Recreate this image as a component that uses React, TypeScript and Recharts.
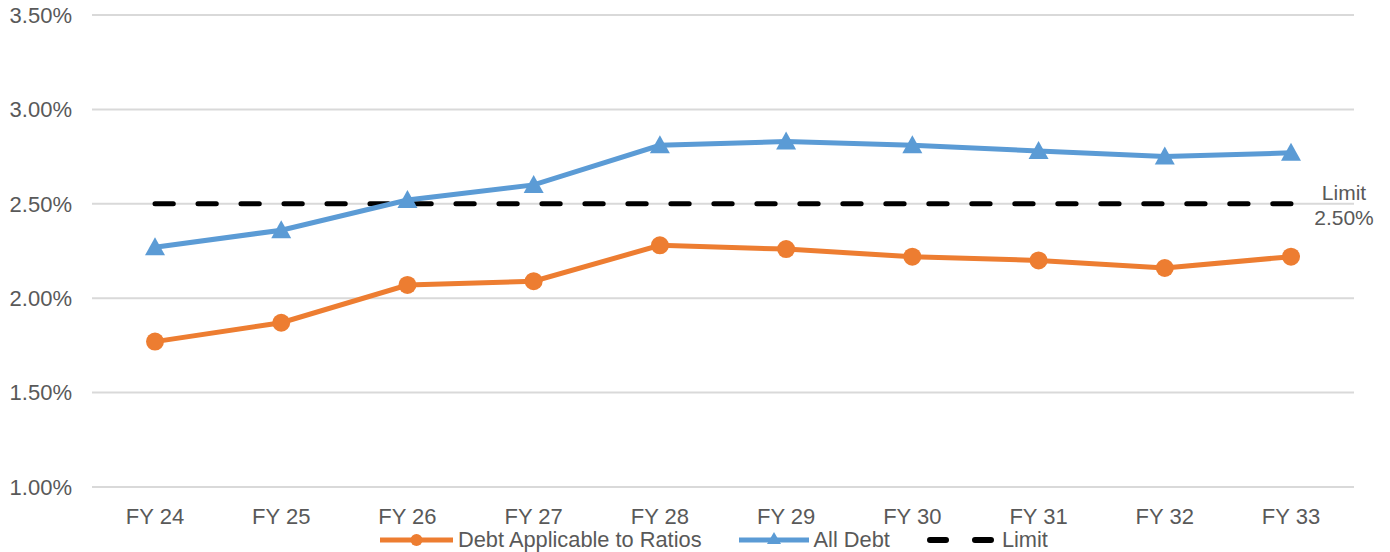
import React from "react";
import {
  LineChart,
  Line,
  XAxis,
  YAxis,
  CartesianGrid,
  Legend,
  LabelList,
} from "recharts";

const categories = ["FY 24", "FY 25", "FY 26", "FY 27", "FY 28", "FY 29", "FY 30", "FY 31", "FY 32", "FY 33"];
const applicableDebt = [1.77, 1.87, 2.07, 2.09, 2.28, 2.26, 2.22, 2.2, 2.16, 2.22];
const allDebt = [2.27, 2.36, 2.52, 2.6, 2.81, 2.83, 2.81, 2.78, 2.75, 2.77];
const limit = [2.5, 2.5, 2.5, 2.5, 2.5, 2.5, 2.5, 2.5, 2.5, 2.5];
const yTicks = [1.0, 1.5, 2.0, 2.5, 3.0, 3.5];

const ORANGE = "#ED7D31";
const BLUE = "#5B9BD5";
const TEXT = "#595959";
const FONT = "'Liberation Sans', Arial, sans-serif";

const data = categories.map((cat, i) => ({
  cat,
  applicable: applicableDebt[i],
  all: allDebt[i],
  limit: limit[i],
}));

// triangle marker for All Debt
const Triangle = (props: any) => {
  const { cx, cy } = props;
  if (cx == null || cy == null) return null;
  return (
    <polygon
      points={`${cx},${cy - 10} ${cx - 10},${cy + 8} ${cx + 10},${cy + 8}`}
      fill={BLUE}
    />
  );
};

const LimitLabel = (props: any) => {
  const { x, y, index } = props;
  if (index !== limit.length - 1) return null;
  return (
    <text textAnchor="middle" fill={TEXT} fontFamily={FONT} fontSize={21}>
      <tspan x={x + 53} y={y - 4}>Limit</tspan>
      <tspan x={x + 53} y={y + 21}>2.50%</tspan>
    </text>
  );
};

const renderLegend = () => (
  <div
    style={{
      display: "flex",
      alignItems: "center",
      paddingLeft: 380,
      height: 25,
      fontFamily: FONT,
      fontSize: 21.8,
      color: TEXT,
      whiteSpace: "nowrap",
    }}
  >
    <svg width={73} height={20}>
      <line x1={0} y1={10} x2={73} y2={10} stroke={ORANGE} strokeWidth={5} />
      <circle cx={36.5} cy={10} r={6} fill={ORANGE} />
    </svg>
    <span style={{ marginLeft: 5, marginRight: 37 }}>Debt Applicable to Ratios</span>
    <svg width={70} height={20}>
      <line x1={0} y1={10} x2={70} y2={10} stroke={BLUE} strokeWidth={5} />
      <polygon points="35,2 28,14 42,14" fill={BLUE} />
    </svg>
    <span style={{ marginLeft: 5, marginRight: 37 }}>All Debt</span>
    <svg width={70} height={20}>
      <line x1={3} y1={10} x2={67} y2={10} stroke="#000" strokeWidth={6} strokeDasharray="16 29" strokeLinecap="round" />
    </svg>
    <span style={{ marginLeft: 5 }}>Limit</span>
  </div>
);

export default function App() {
  return (
    <div style={{ position: "absolute", left: 0, top: 0, background: "#fff" }}>
      <LineChart
        width={1390}
        height={552}
        data={data}
        margin={{ top: 15, right: 36, left: 0, bottom: 0 }}
      >
        <CartesianGrid vertical={false} stroke="#D9D9D9" strokeWidth={2} />
        <XAxis
          dataKey="cat"
          axisLine={false}
          tickLine={false}
          tickSize={0}
          tickMargin={21}
          height={40}
          padding={{ left: 63, right: 63 }}
          tick={{ fill: TEXT, fontSize: 22, fontFamily: FONT }}
        />
        <YAxis
          domain={[1, 3.5]}
          ticks={yTicks}
          width={92}
          axisLine={false}
          tickLine={false}
          tickSize={0}
          tickMargin={20}
          tickFormatter={(v: number) => `${v.toFixed(2)}%`}
          tick={{ fill: TEXT, fontSize: 22, fontFamily: FONT }}
        />
        <Legend verticalAlign="bottom" height={25} content={renderLegend} wrapperStyle={{ left: 0, width: 1390 }} />
        <Line
          dataKey="limit"
          name="Limit"
          stroke="#000"
          strokeWidth={5}
          strokeDasharray="18.3 24.69"
          strokeLinecap="round"
          dot={false}
          activeDot={false}
          isAnimationActive={false}
        >
          <LabelList dataKey="limit" content={LimitLabel} />
        </Line>
        <Line
          dataKey="applicable"
          name="Debt Applicable to Ratios"
          stroke={ORANGE}
          strokeWidth={5}
          dot={{ r: 9, fill: ORANGE, stroke: ORANGE, strokeWidth: 0 }}
          activeDot={false}
          isAnimationActive={false}
        />
        <Line
          dataKey="all"
          name="All Debt"
          stroke={BLUE}
          strokeWidth={5}
          dot={<Triangle />}
          activeDot={false}
          isAnimationActive={false}
        />
      </LineChart>
    </div>
  );
}
